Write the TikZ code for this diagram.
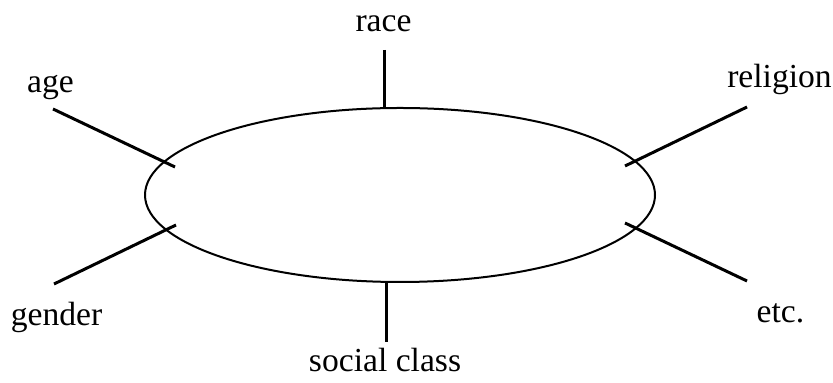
\documentclass[tikz,border=0pt]{standalone}
\usepackage{fontspec}
\setmainfont{Liberation Serif}
\usetikzlibrary{shapes.geometric}
\begin{document}
\begin{tikzpicture}[x=0.5pt, y=-0.5pt,
  label/.style={font=\fontsize{16.8}{20}\selectfont, inner sep=0pt, anchor=base},
  spoke/.style={line width=1.5pt},
  oval/.style={ellipse, draw, line width=1pt, minimum width=255pt, minimum height=87pt, inner sep=0pt}]

  \useasboundingbox (0,0) rectangle (833,383);

  % the central ellipse
  \node[oval] (ring) at (400,195) {};

  % labels
  \node[label] (race)     at (383.5,32)  {race};
  \node[label] (age)      at (50.5,93)   {age};
  \node[label] (religion) at (779.5,88)  {religion};
  \node[label] (gender)   at (56.5,326)  {gender};
  \node[label] (etc)      at (780.5,323) {etc.};
  \node[label] (social)   at (385,372)   {social class};

  % spoke ends
  \coordinate (race-out)     at (384,50);
  \coordinate (social-out)   at (386,342);
  \coordinate (age-out)      at (53,109);
  \coordinate (age-in)       at (175,167);
  \coordinate (religion-out) at (747,107);
  \coordinate (religion-in)  at (625,166);
  \coordinate (gender-out)   at (54,284);
  \coordinate (gender-in)    at (176,225);
  \coordinate (etc-out)      at (747,281);
  \coordinate (etc-in)       at (625,223);

  % spokes
  \draw[spoke] (race-out) -- (race-out |- ring.north);
  \draw[spoke] (social-out) -- (social-out |- ring.south);
  \draw[spoke] (age-out) -- (age-in);
  \draw[spoke] (religion-out) -- (religion-in);
  \draw[spoke] (gender-out) -- (gender-in);
  \draw[spoke] (etc-out) -- (etc-in);
\end{tikzpicture}
\end{document}
